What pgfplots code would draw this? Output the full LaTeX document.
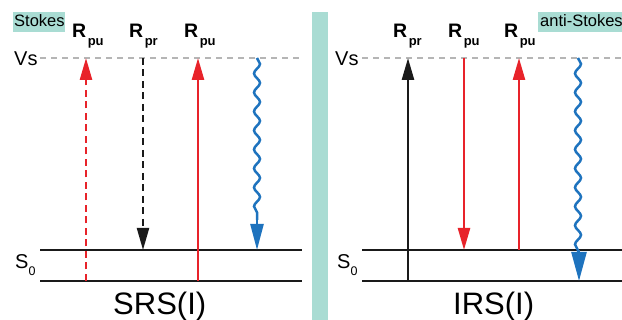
\documentclass[border=0pt]{standalone}
\usepackage{fontspec}
\setmainfont{Liberation Sans}
\usepackage{pgfplots}
\pgfplotsset{compat=1.18}
\usetikzlibrary{arrows.meta,decorations.pathmorphing}
\definecolor{ramred}{HTML}{E8232A}
\definecolor{ramblue}{HTML}{1E73BE}
\definecolor{ramgray}{HTML}{B5B5B5}
\definecolor{ramteal}{HTML}{A9DCD3}
\definecolor{ramblack}{HTML}{1A1A1A}
\newcommand{\lab}[2]{\fontsize{19.5}{19.5}\selectfont\textbf{#1}\kern1.5pt\raisebox{-8pt}{\fontsize{13}{13}\selectfont\textbf{#2}}}
\newcommand{\sz}{\fontsize{20}{20}\selectfont}
\newcommand{\gs}{\sz S\raisebox{-7pt}{\fontsize{12.5}{12.5}\selectfont 0}}
\begin{document}
\begin{tikzpicture}
\begin{axis}[
  hide axis, scale only axis, width=622pt, height=320pt,
  xmin=0, xmax=622, ymin=0, ymax=320, clip=false,
  tiptop/.style={-{Triangle[length=22pt,width=12pt]}},
]
% separator and caption boxes
\addplot[fill=ramteal, draw=none] coordinates {(312,0) (328,0) (328,308) (312,308)} -- cycle;
\addplot[fill=ramteal, draw=none] coordinates {(13,288) (65,288) (65,308) (13,308)} -- cycle;
\addplot[fill=ramteal, draw=none] coordinates {(538,288) (622,288) (622,308) (538,308)} -- cycle;
% virtual state
\addplot[ramgray, line width=1.6pt, dash pattern=on 6pt off 5pt] coordinates {(40,262) (302,262)};
\addplot[ramgray, line width=1.6pt, dash pattern=on 6pt off 5pt] coordinates {(362,262) (622,262)};
% ground-state levels
\addplot[ramblack, line width=2pt] coordinates {(40,70) (302,70)};
\addplot[ramblack, line width=2pt] coordinates {(40,39) (302,39)};
\addplot[ramblack, line width=2pt] coordinates {(362,70) (622,70)};
\addplot[ramblack, line width=2pt] coordinates {(362,39) (622,39)};
% SRS transitions
\addplot[ramred, line width=2.5pt, dash pattern=on 7pt off 4.5pt, tiptop] coordinates {(86,39) (86,262)};
\addplot[ramblack, line width=2.2pt, dash pattern=on 7pt off 4.5pt, tiptop] coordinates {(143,262) (143,70)};
\addplot[ramred, line width=2.5pt, tiptop] coordinates {(198,39) (198,262)};
\addplot[ramblue, line width=2.5pt, decorate, decoration={snake, amplitude=3pt, segment length=19pt}] coordinates {(257,262) (257,100)};
\addplot[ramblue, line width=2.5pt, -{Triangle[length=26pt,width=13pt]}] coordinates {(257,101) (257,70)};
% IRS transitions
\addplot[ramblack, line width=2.5pt, tiptop] coordinates {(408,39) (408,262)};
\addplot[ramred, line width=2.5pt, tiptop] coordinates {(464,262) (464,70)};
\addplot[ramred, line width=2.5pt, tiptop] coordinates {(519,70) (519,262)};
\addplot[ramblue, line width=2.5pt, decorate, decoration={snake, amplitude=3pt, segment length=19pt}] coordinates {(578,262) (578,68)};
\addplot[ramblue, line width=2.5pt, -{Triangle[length=29pt,width=15pt]}] coordinates {(579,70) (579,39)};
% labels
\node[anchor=base west, inner sep=0pt] at (axis cs:14,293) {\fontsize{16.5}{16.5}\selectfont Stokes};
\node[anchor=base west, inner sep=0pt] at (axis cs:540,293) {\fontsize{16.5}{16.5}\selectfont anti-Stokes};
\node[anchor=base west, inner sep=0pt] at (axis cs:72,282) {\lab{R}{pu}};
\node[anchor=base west, inner sep=0pt] at (axis cs:129,282) {\lab{R}{pr}};
\node[anchor=base west, inner sep=0pt] at (axis cs:184,282) {\lab{R}{pu}};
\node[anchor=base west, inner sep=0pt] at (axis cs:393,282) {\lab{R}{pr}};
\node[anchor=base west, inner sep=0pt] at (axis cs:448,282) {\lab{R}{pu}};
\node[anchor=base west, inner sep=0pt] at (axis cs:504,282) {\lab{R}{pu}};
\node[anchor=base west, inner sep=0pt] at (axis cs:14,254) {\sz Vs};
\node[anchor=base west, inner sep=0pt] at (axis cs:335,254) {\sz Vs};
\node[anchor=base west, inner sep=0pt] at (axis cs:15,51) {\gs};
\node[anchor=base west, inner sep=0pt] at (axis cs:337,51) {\gs};
\node[anchor=base west, inner sep=0pt] at (axis cs:113,5) {\fontsize{31}{31}\selectfont SRS(I)};
\node[anchor=base west, inner sep=0pt] at (axis cs:453,5) {\fontsize{31}{31}\selectfont IRS(I)};
\end{axis}
\pgfresetboundingbox
\path[use as bounding box] (current axis.south west) rectangle (current axis.north east);
\end{tikzpicture}
\end{document}
